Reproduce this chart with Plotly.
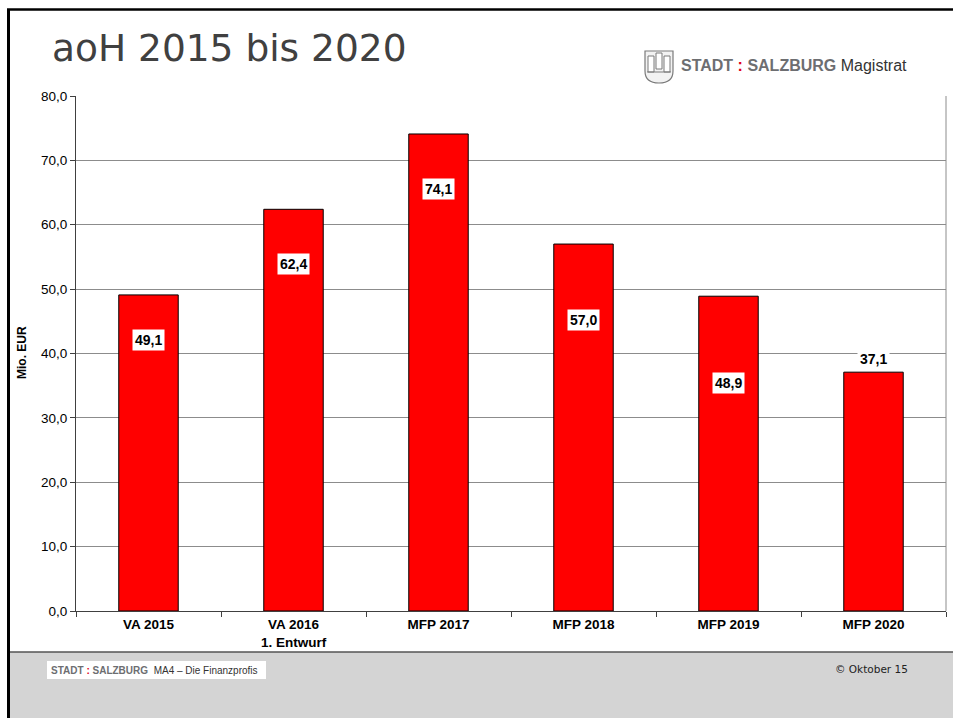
import plotly.graph_objects as go

W, H = 953, 718

CATEGORIES = ["VA 2015", "VA 2016<br>1. Entwurf", "MFP 2017", "MFP 2018", "MFP 2019", "MFP 2020"]
VALUES     = [49.1, 62.4, 74.1, 57.0, 48.9, 37.1]
LABELS     = ["49,1", "62,4", "74,1", "57,0", "48,9", "37,1"]
# where Excel put each data label, relative to the bar top (in Mio. EUR)
LABEL_SHIFT = [-7.0, -8.5, -8.5, -11.8, -13.5, 2.0]
Y_TICKS    = [0, 10, 20, 30, 40, 50, 60, 70, 80]

RED      = "#ff0000"
GRID     = "#8c8c8c"
AXIS     = "#404040"
FOOT_BG  = "#d4d4d4"
TITLE_C  = "#404040"
LOGO_C   = "#6d6e71"
NARROW   = "Liberation Sans Narrow, Arial Narrow, Liberation Sans, Arial"
SANS     = "Liberation Sans, Arial, sans-serif"
VERDANA  = "DejaVu Sans, Verdana, sans-serif"


def px(x):
    return x / W


def py(y):
    return 1 - y / H


fig = go.Figure()

fig.add_trace(go.Bar(
    x=CATEGORIES, y=VALUES,
    marker=dict(color=RED, line=dict(color="black", width=1)),
    hoverinfo="skip",
))

# ── data labels ─────────────────────────────────────────────
for cat, val, lab, sh in zip(CATEGORIES, VALUES, LABELS, LABEL_SHIFT):
    fig.add_annotation(
        x=cat, y=val + sh, xref="x", yref="y",
        text=f"<b>{lab}</b>", showarrow=False,
        font=dict(family=SANS, size=14, color="black"),
        bgcolor="white", borderpad=2,
    )

# ── slide decoration ────────────────────────────────────────
shapes = [
    # footer band
    dict(type="rect", xref="paper", yref="paper", x0=px(9), x1=1, y0=0, y1=py(652),
         fillcolor=FOOT_BG, line=dict(width=0), layer="below"),
    dict(type="line", xref="paper", yref="paper", x0=px(9), x1=1, y0=py(652), y1=py(652),
         line=dict(color="#555555", width=1.5)),
    # black frame
    dict(type="line", xref="paper", yref="paper", x0=px(7), x1=1, y0=py(9.5), y1=py(9.5),
         line=dict(color="black", width=2.5)),
    dict(type="line", xref="paper", yref="paper", x0=px(8.5), x1=px(8.5), y0=0, y1=py(9),
         line=dict(color="black", width=3)),
    # right border of plot area
    dict(type="line", xref="paper", yref="paper", x0=px(946), x1=px(946), y0=py(96), y1=py(611),
         line=dict(color=GRID, width=1)),
    # footer logo box
    dict(type="rect", xref="paper", yref="paper", x0=px(47), x1=px(266), y0=py(679), y1=py(661),
         fillcolor="white", line=dict(width=0)),
]

# little shield for the city logo
sx0, sx1, sy0, sy1 = 645, 673, 51, 83
shield = (f"M {px(sx0)},{py(sy0)} L {px(sx1)},{py(sy0)} L {px(sx1)},{py(sy0 + 20)} "
          f"Q {px(sx1)},{py(sy1)} {px((sx0 + sx1) / 2)},{py(sy1)} "
          f"Q {px(sx0)},{py(sy1)} {px(sx0)},{py(sy0 + 20)} Z")
shapes.append(dict(type="path", xref="paper", yref="paper", path=shield,
                   line=dict(color="#7a7a7a", width=1.2), fillcolor="#f2f2f2"))
for tx0, tx1, ty in [(648, 654, 56), (656, 662, 53), (664, 670, 56)]:
    shapes.append(dict(type="rect", xref="paper", yref="paper",
                       x0=px(tx0), x1=px(tx1), y0=py(ty + 16), y1=py(ty),
                       line=dict(color="#7a7a7a", width=1), fillcolor="white"))
shapes.append(dict(type="line", xref="paper", yref="paper", x0=px(647), x1=px(671),
                   y0=py(72), y1=py(72), line=dict(color="#7a7a7a", width=1)))

fig.update_layout(shapes=shapes)

# ── texts ───────────────────────────────────────────────────
fig.add_annotation(
    x=px(50), y=py(48), xref="paper", yref="paper", xanchor="left", yanchor="middle",
    text="aoH 2015 bis 2020", showarrow=False,
    font=dict(family=VERDANA, size=37.5, color=TITLE_C),
)
fig.add_annotation(
    x=px(679), y=py(66), xref="paper", yref="paper", xanchor="left", yanchor="middle",
    text=("<b>STADT</b> <span style='color:#e2001a'><b>:</b></span> <b>SALZBURG</b>"
          " <span style='color:#333333'>Magistrat</span>"),
    showarrow=False, font=dict(family=NARROW, size=16, color=LOGO_C),
)
fig.add_annotation(
    x=px(49), y=py(670), xref="paper", yref="paper", xanchor="left", yanchor="middle",
    text=("<b>STADT</b> <span style='color:#e2001a'><b>:</b></span> <b>SALZBURG</b>"
          "  <span style='color:#333333'>MA4 – Die Finanzprofis</span>"),
    showarrow=False, font=dict(family=NARROW, size=10, color=LOGO_C),
)
fig.add_annotation(
    x=px(910), y=py(669), xref="paper", yref="paper", xanchor="right", yanchor="middle",
    text="© Oktober 15", showarrow=False,
    font=dict(family=VERDANA, size=10.5, color="#222222"),
)
fig.add_annotation(
    x=px(22), y=py(353), xref="paper", yref="paper", xanchor="center", yanchor="middle",
    text="<b>Mio. EUR</b>", textangle=-90, showarrow=False,
    font=dict(family=SANS, size=12, color="black"),
)

fig.update_layout(
    width=W, height=H,
    margin=dict(l=0, r=0, t=0, b=0, pad=0),
    paper_bgcolor="white",
    plot_bgcolor="white",
    showlegend=False,
    bargap=0.59,
    separators=",.",
    xaxis=dict(
        domain=[px(76), px(946)], automargin=False,
        showline=True, linecolor=AXIS, linewidth=1,
        ticks="outside", tickson="boundaries", ticklen=5, tickcolor=AXIS,
        ticklabelstandoff=1,
        tickfont=dict(family=SANS, size=13.5, color="black", weight="bold"),
        showgrid=False,
    ),
    yaxis=dict(
        domain=[py(611), py(96)], automargin=False,
        range=[0, 80], tickvals=Y_TICKS, tickformat=".1f",
        showline=True, linecolor=AXIS, linewidth=1,
        ticks="outside", ticklen=5, tickcolor=AXIS,
        tickfont=dict(family=SANS, size=13.5, color="black"),
        showgrid=True, gridcolor=GRID, gridwidth=1,
        zeroline=False,
    ),
)

fig.write_html(
    "out.html",
    config={"displayModeBar": False},
    post_script="document.body.style.margin='0';document.body.style.overflow='hidden';",
)
